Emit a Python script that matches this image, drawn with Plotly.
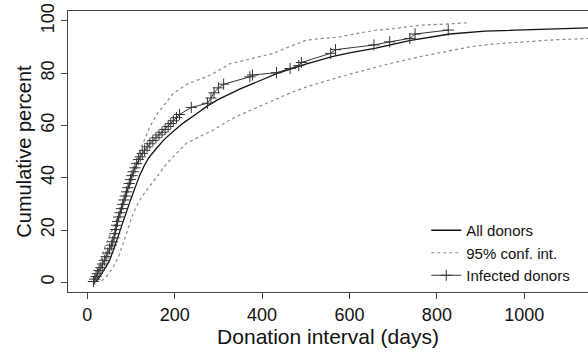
import plotly.graph_objects as go

# All donors (cumulative percent by donation interval)
all_days = [15, 21, 30, 40, 50, 60, 70, 80, 90, 100, 110, 120, 130, 140, 155, 175, 195, 220, 250, 275,
            300, 350, 400, 433, 500, 560, 600, 660, 740, 830, 910, 1000, 1080, 1150]
all_pct = [0, 0.5, 2.5, 5, 8, 12.5, 17.5, 22.5, 27.5, 32, 36.5, 41, 44.5, 47.5, 50.6, 54.5, 57.5, 61, 64.5, 67.5,
           70, 74, 77.5, 79.8, 83.5, 86.3, 87.8, 89.6, 92.6, 95, 96.1, 96.7, 97.1, 97.4]

# 95% confidence interval
ci_up_days = [18, 28, 37, 50, 63, 79, 98, 110, 121, 132, 143, 160, 182, 197, 230, 273, 300, 327, 350, 391,
              426, 460, 502, 540, 578, 620, 662, 700, 761, 820, 870]
ci_up_pct = [2, 6, 12, 17.5, 22, 29, 38, 44, 50.5, 55, 59.5, 64.5, 69, 72.3, 76, 78.6, 81, 83.7, 84.5, 86.3,
             87.6, 90, 92.7, 93.3, 93.9, 95.3, 96.5, 97, 98.4, 98.8, 99.3]
ci_lo_days = [33, 45, 60, 72, 82, 93, 105, 120, 136, 160, 182, 205, 227, 260, 288, 320, 349, 390, 426, 465,
              502, 540, 578, 620, 662, 700, 761, 820, 876, 930, 990, 1070, 1150]
ci_lo_pct = [0.5, 2.5, 6, 10, 14.9, 20.5, 26.4, 31.5, 35.3, 40.5, 45.5, 49.5, 53.2, 56, 58.2, 61.5, 64, 67, 69.7, 72.5,
             74.8, 76.8, 78.6, 80.5, 82.4, 84, 86.3, 88.3, 90.1, 91.2, 92, 92.8, 93.3]

# Infected donors
inf_days = [14, 17, 20, 23, 27, 31, 35, 39, 43, 47, 51, 55, 58, 61, 63, 65, 67, 69, 72, 75, 78, 81, 84, 87, 90,
            93, 96, 99, 102, 105, 109, 113, 117, 121, 126, 131, 137, 143, 150, 157, 164, 171, 178, 185, 191,
            197, 204, 211, 238, 275, 283, 290, 300, 312, 372, 378, 433, 464, 484, 490, 557, 568, 656, 692,
            738, 750, 826]
inf_pct = [0.3, 1.2, 2.2, 3.3, 4.5, 5.6, 7.0, 8.4, 9.8, 11.2, 12.8, 14.2, 15.5, 17.0, 18.6, 20.2, 21.8, 23.3,
           25.0, 26.6, 28.2, 29.8, 31.5, 33.0, 34.6, 36.2, 37.8, 39.3, 40.8, 42.3, 43.8, 45.4, 47.0, 48.0,
           49.3, 50.5, 51.8, 53.0, 54.2, 55.3, 56.4, 57.4, 58.5, 59.6, 60.7, 61.8, 63.0, 64.2, 66.9, 68.5,
           70.5, 72.5, 74.4, 75.8, 78.6, 79.3, 80.2, 81.8, 82.9, 84.1, 87.6, 89.0, 90.8, 92.0, 93.3, 95.0, 96.5]

x_ticks = [0, 200, 400, 600, 800, 1000]
y_ticks = [0, 20, 40, 60, 80, 100]

FONT = "Liberation Sans, Arial, sans-serif"

fig = go.Figure()
fig.add_trace(go.Scatter(x=all_days, y=all_pct, mode="lines", name="All donors",
                         line=dict(color="#111111", width=1.3)))
fig.add_trace(go.Scatter(x=ci_up_days, y=ci_up_pct, mode="lines", name="95% conf. int.",
                         line=dict(color="#8a8a8a", width=1.2, dash="3px,3px")))
fig.add_trace(go.Scatter(x=ci_lo_days, y=ci_lo_pct, mode="lines", name="95% conf. int.", showlegend=False,
                         line=dict(color="#8a8a8a", width=1.2, dash="3px,3px")))
fig.add_trace(go.Scatter(x=inf_days, y=inf_pct, mode="lines+markers", name="Infected donors",
                         line=dict(color="#333333", width=1),
                         marker=dict(symbol="cross-thin-open", size=8, color="#333333",
                                     line=dict(color="#333333", width=1))))

fig.update_layout(
    width=588, height=355,
    margin=dict(l=68, r=0, t=11, b=63, autoexpand=False),
    paper_bgcolor="white", plot_bgcolor="white",
    font=dict(family=FONT, color="#111111", size=18),
    showlegend=True,
    legend=dict(x=0.689, xanchor="left", y=0.0, yanchor="bottom",
                bgcolor="rgba(0,0,0,0)", font=dict(size=15, family=FONT),
                tracegroupgap=0),
)
fig.update_xaxes(range=[-44.2, 1145.8], tickvals=x_ticks, ticks="outside", ticklen=6,
                 tickcolor="#444", showline=True, linecolor="#444", linewidth=1, mirror=True,
                 showgrid=False, zeroline=False, automargin=False,
                 tickfont=dict(size=18),
                 title=dict(text="Donation interval (days)", font=dict(size=21), standoff=2))
fig.update_yaxes(range=[-3.72, 103.8], tickvals=y_ticks, ticks="outside", ticklen=6,
                 tickcolor="#444", showline=True, linecolor="#444", linewidth=1, mirror=True,
                 showgrid=False, zeroline=False, tickangle=-90, automargin=False,
                 tickfont=dict(size=18),
                 title=dict(text="Cumulative percent", font=dict(size=20), standoff=0))

fig.write_html("out.html", config={"displayModeBar": False},
               post_script="document.body.style.margin='0';")
